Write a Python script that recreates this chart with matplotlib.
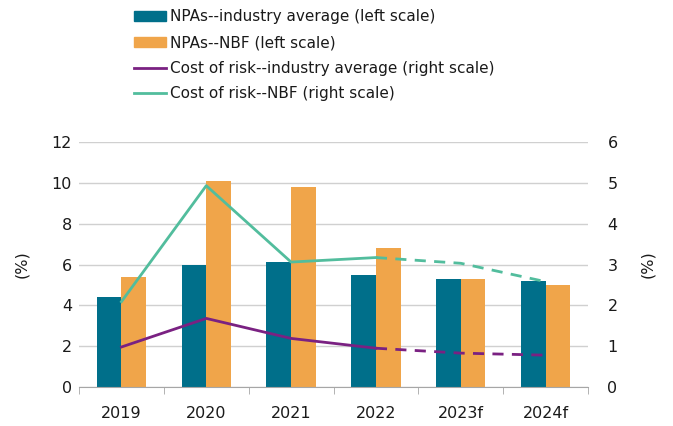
import matplotlib

matplotlib.use("Agg")
import matplotlib.pyplot as plt  # noqa: E402
import numpy as np  # noqa: E402
from matplotlib.lines import Line2D  # noqa: E402
from matplotlib.patches import Patch  # noqa: E402

TEAL = "#006f8a"
ORANGE = "#f0a54a"
PURPLE = "#7a2182"
MINT = "#52bd9d"
GRID = "#d0d0d0"
INK = "#1a1a1a"

plt.rcParams.update({"font.family": ["DejaVu Sans"], "font.size": 11.5})

years = ["2019", "2020", "2021", "2022", "2023f", "2024f"]
npa_industry = [4.4, 6.0, 6.1, 5.5, 5.3, 5.2]
npa_nbf = [5.4, 10.1, 9.8, 6.8, 5.3, 5.0]
cor_industry = [0.98, 1.68, 1.19, 0.95, 0.83, 0.78]
cor_nbf = [2.09, 4.93, 3.06, 3.17, 3.03, 2.58]
n_actual = 4  # 2019-2022 actual, then forecast

fig = plt.figure(figsize=(6.73, 4.26), dpi=100)
ax = fig.add_axes([0.1174, 0.0915, 0.7563, 0.5752])
x = np.arange(len(years))
w = 0.29
ax.bar(x - w / 2, npa_industry, w, color=TEAL, zorder=2)
ax.bar(x + w / 2, npa_nbf, w, color=ORANGE, zorder=2)
ax.set_ylim(0, 12)
ax.set_yticks(range(0, 13, 2))
ax.set_xlim(-0.5, len(years) - 0.5)
ax.grid(axis="y", color=GRID, linewidth=1)
ax.set_axisbelow(True)
for side in ("top", "right", "left"):
    ax.spines[side].set_visible(False)
ax.spines["bottom"].set_color("#a6a6a6")
ax.set_xticks(x)
ax.set_xticklabels(years, color=INK)
ax.set_xticks(np.arange(-0.5, len(years)), minor=True)
ax.tick_params(axis="x", which="major", length=0, pad=14)
ax.tick_params(axis="x", which="minor", length=5, color="#a6a6a6")
ax.tick_params(axis="y", length=0, pad=5, labelcolor=INK)
ax.set_ylabel("(%)", color=INK, labelpad=16)

ax2 = ax.twinx()
ax2.set_ylim(0, 6)
ax2.set_yticks(range(0, 7))
for side in ("top", "right", "left", "bottom"):
    ax2.spines[side].set_visible(False)
ax2.tick_params(axis="y", length=0, pad=14, labelcolor=INK)
ax2.set_ylabel("(%)", color=INK, rotation=90, labelpad=16)
for vals, color in ((cor_industry, PURPLE), (cor_nbf, MINT)):
    ax2.plot(x[:n_actual], vals[:n_actual], color=color, linewidth=2, zorder=3)
    ax2.plot(x[n_actual - 1:], vals[n_actual - 1:], color=color, linewidth=2,
             linestyle=(0, (4, 3)), zorder=3)

handles = [
    Patch(color=TEAL, label="NPAs--industry average (left scale)"),
    Patch(color=ORANGE, label="NPAs--NBF (left scale)"),
    Line2D([], [], color=PURPLE, linewidth=2, label="Cost of risk--industry average (right scale)"),
    Line2D([], [], color=MINT, linewidth=2, label="Cost of risk--NBF (right scale)"),
]
fig.legend(handles=handles, loc="upper left", bbox_to_anchor=(0.199, 0.978),
           frameon=False, handlelength=2.07, handleheight=0.65, handletextpad=0.28,
           labelspacing=0.7, borderaxespad=0, borderpad=0, labelcolor=INK,
           fontsize=11)

fig.savefig("out.png", dpi=100, facecolor="white")
